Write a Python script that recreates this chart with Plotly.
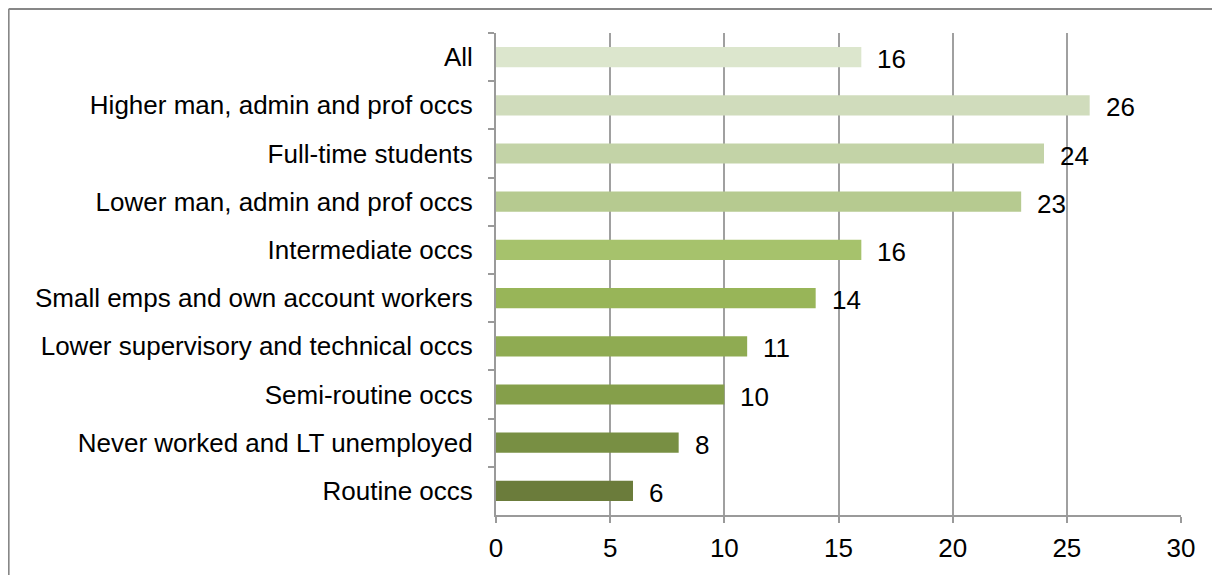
import plotly.graph_objects as go

# groups, top to bottom as in the chart
groups = [
    "All",
    "Higher man, admin and prof occs",
    "Full-time students",
    "Lower man, admin and prof occs",
    "Intermediate occs",
    "Small emps and own account workers",
    "Lower supervisory and technical occs",
    "Semi-routine occs",
    "Never worked and LT unemployed",
    "Routine occs",
]
values = [16, 26, 24, 23, 16, 14, 11, 10, 8, 6]
bar_colors = [
    "#dce6cd", "#d0dcbc", "#c3d3a7", "#b6ca90", "#a6c26c",
    "#98b558", "#8fab52", "#859f4a", "#788f43", "#6b7c3b",
]
x_ticks = [0, 5, 10, 15, 20, 25, 30]

FONT = "Liberation Sans, Arial, sans-serif"

fig = go.Figure(go.Bar(
    x=values,
    y=groups,
    orientation="h",
    marker=dict(color=bar_colors, line=dict(width=0)),
    hoverinfo="x+y",
))

# value labels a little to the right of each bar
for g, v in zip(groups, values):
    fig.add_annotation(
        x=v, y=g, text=str(v), showarrow=False,
        xanchor="left", xshift=14, yshift=-2,
        font=dict(family=FONT, size=26, color="#000000"),
    )

# outer frame (only the left and top edges are visible)
fig.add_shape(type="line", xref="paper", yref="paper",
              x0=-0.7115, x1=-0.7115, y0=1.05, y1=-0.2,
              line=dict(color="#878787", width=2))
fig.add_shape(type="line", xref="paper", yref="paper",
              x0=-0.7115, x1=1.1, y0=1.05, y1=1.05,
              line=dict(color="#878787", width=2))

# the page adds an 8px body margin, so the figure is 8px smaller
fig.update_layout(
    width=1212, height=567,
    margin=dict(l=488, r=39, t=25, b=58),
    paper_bgcolor="white", plot_bgcolor="white",
    bargap=0.58,
    showlegend=False,
    font=dict(family=FONT, size=26, color="#000000"),
)
fig.update_xaxes(
    range=[0, 30], tickvals=x_ticks,
    showgrid=True, gridcolor="#a0a0a0", gridwidth=1.5,
    showline=True, linecolor="#9a9a9a", linewidth=2,
    ticks="outside", ticklen=6, tickcolor="#9a9a9a", tickwidth=2,
    zeroline=False,
    tickfont=dict(family=FONT, size=26),
    ticklabelstandoff=3,
)
fig.update_yaxes(
    autorange="reversed", type="category",
    showline=True, linecolor="#9a9a9a", linewidth=2,
    ticks="outside", tickson="boundaries", ticklen=6,
    tickcolor="#9a9a9a", tickwidth=2,
    showgrid=False,
    tickfont=dict(family=FONT, size=26),
    ticklabelstandoff=16,
)

fig.write_html("out.html")
